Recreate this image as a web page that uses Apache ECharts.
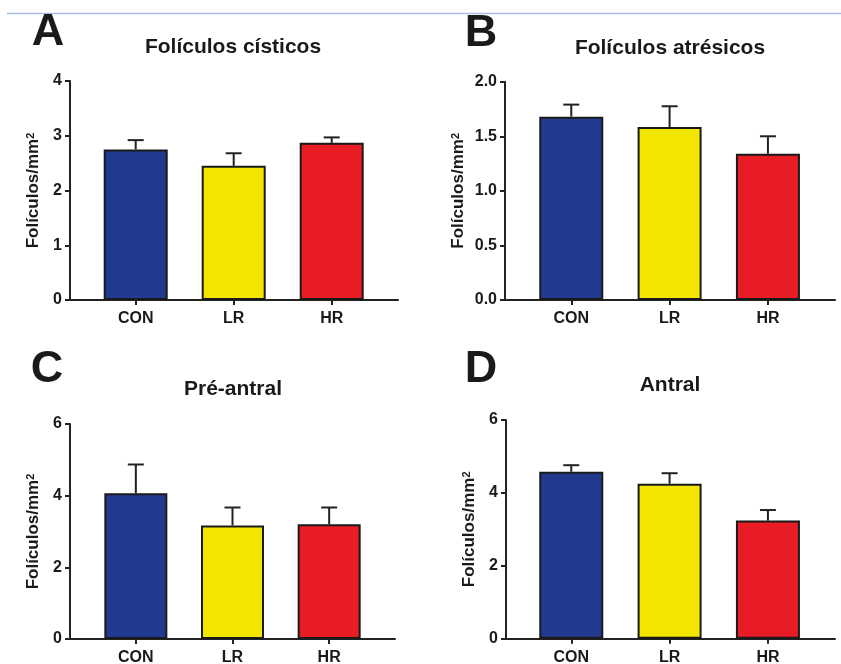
<!DOCTYPE html>
<html>
<head>
<meta charset="utf-8">
<script src="https://cdn.jsdelivr.net/npm/echarts@6/dist/echarts.min.js"></script>
<style>
html,body{margin:0;padding:0;background:#ffffff;}
#chart{width:841px;height:664px;}
</style>
</head>
<body>
<div id="chart"></div>
<script>
// ---- Data ----
var categories = ['CON', 'LR', 'HR'];
var barColors = ['#213A8F', '#F2E600', '#E81C24'];

var cisticosMean = [2.75, 2.45, 2.87];
var cisticosErr  = [0.17, 0.23, 0.10];

var atresicosMean = [1.68, 1.585, 1.34];
var atresicosErr  = [0.11, 0.19, 0.16];

var preAntralMean = [4.07, 3.17, 3.20];
var preAntralErr  = [0.80, 0.50, 0.47];

var antralMean = [4.58, 4.25, 3.24];
var antralErr  = [0.18, 0.29, 0.29];

var panelLetters = ['A', 'B', 'C', 'D'];
var panelTitles = ['Folículos císticos', 'Folículos atrésicos', 'Pré-antral', 'Antral'];
var yMax = [4, 2, 6, 6];
var yInterval = [1, 0.5, 2, 2];
var yDecimals = [0, 1, 0, 0];
var yName = 'Folículos/mm';
var yNameSup = '2';

// ---- Layout (pixels) ----
var FONT = '"Liberation Sans", Arial, Helvetica, sans-serif';
var INK = '#1a1a1a';
var panels = [
  {mean: cisticosMean,  err: cisticosErr,  axis: {left: 70,  top: 81,   width: 328, height: 219},   bars: {left: 86.7,  width: 294}, barW: 64, nameGap: 28, title: [233, 47],  letter: [48, 33]},
  {mean: atresicosMean, err: atresicosErr, axis: {left: 505, top: 81.7, width: 330, height: 218.3}, bars: {left: 522.1, width: 295}, barW: 64, nameGap: 38, title: [670, 48],  letter: [481, 34]},
  {mean: preAntralMean, err: preAntralErr, axis: {left: 70,  top: 424,  width: 325, height: 215},   bars: {left: 87.5,  width: 290}, barW: 63, nameGap: 28, title: [233, 389], letter: [47, 370]},
  {mean: antralMean,    err: antralErr,    axis: {left: 506, top: 420,  width: 329, height: 218.7}, bars: {left: 522.1, width: 295}, barW: 64, nameGap: 28, title: [670, 385], letter: [481, 369.5]}
];

var grid = [], xAxis = [], yAxis = [], series = [], graphic = [];

graphic.push({type: 'line', shape: {x1: 7, y1: 13.5, x2: 841, y2: 13.5}, style: {stroke: '#a9bfdc', lineWidth: 1.5}, silent: true});

function errRender(params, api) {
  var xi = api.value(0), m = api.value(1), e = api.value(2);
  var p0 = api.coord([xi, m]);
  var p1 = api.coord([xi, m + e]);
  var st = {stroke: '#222', lineWidth: 2};
  return {type: 'group', children: [
    {type: 'line', shape: {x1: p0[0], y1: p0[1], x2: p1[0], y2: p1[1]}, style: st},
    {type: 'line', shape: {x1: p1[0] - 8, y1: p1[1], x2: p1[0] + 8, y2: p1[1]}, style: st}
  ]};
}

panels.forEach(function (p, i) {
  var gA = 2 * i, gB = 2 * i + 1;
  grid.push({left: p.axis.left, top: p.axis.top, width: p.axis.width, height: p.axis.height, outerBoundsMode: 'none', containLabel: false});
  grid.push({left: p.bars.left, top: p.axis.top, width: p.bars.width, height: p.axis.height, outerBoundsMode: 'none', containLabel: false});

  // axis-frame grid: visible y axis and full-length x axis line
  xAxis.push({gridIndex: gA, type: 'value', min: 0, max: 1, axisLine: {show: true, onZero: false, lineStyle: {color: '#222', width: 2}},
    axisTick: {show: false}, axisLabel: {show: false}, splitLine: {show: false}});
  yAxis.push({gridIndex: gA, type: 'value', min: 0, max: yMax[i], interval: yInterval[i],
    axisLine: {show: true, lineStyle: {color: '#222', width: 2}},
    axisTick: {show: true, length: 5, lineStyle: {color: '#222', width: 2}},
    axisLabel: {color: INK, fontFamily: FONT, fontWeight: 'bold', fontSize: 16, margin: 8,
      formatter: (function (d) { return function (v) { return v.toFixed(d); }; })(yDecimals[i])},
    splitLine: {show: false},
    name: '{n|' + yName + '}{s|' + yNameSup + '}', nameLocation: 'middle', nameGap: p.nameGap, nameRotate: 90,
    nameTextStyle: {rich: {
      n: {fontFamily: FONT, fontWeight: 'bold', fontSize: 17, color: INK},
      s: {fontFamily: FONT, fontWeight: 'bold', fontSize: 11, color: INK, verticalAlign: 'top'}
    }}
  });

  // bars grid: category axis
  xAxis.push({gridIndex: gB, type: 'category', data: categories,
    axisLine: {show: false},
    axisTick: {show: true, alignWithLabel: true, length: 5, lineStyle: {color: '#222', width: 2}},
    axisLabel: {color: INK, fontFamily: FONT, fontWeight: 'bold', fontSize: 16, margin: 11},
    splitLine: {show: false}});
  yAxis.push({gridIndex: gB, type: 'value', min: 0, max: yMax[i], interval: yInterval[i], show: false});

  series.push({type: 'bar', xAxisIndex: gB, yAxisIndex: gB, barWidth: p.barW, z: 2,
    data: p.mean.map(function (v, k) { return {value: v, itemStyle: {color: barColors[k]}}; }),
    itemStyle: {borderColor: '#1a1a1a', borderWidth: 2}, silent: true, animation: false});
  series.push({type: 'custom', xAxisIndex: gB, yAxisIndex: gB, z: 3, renderItem: errRender, silent: true, animation: false,
    encode: {x: 0, y: 1},
    data: p.mean.map(function (v, k) { return [k, v, p.err[k]]; })});

  graphic.push({type: 'text', x: p.letter[0], y: p.letter[1], silent: true,
    style: {text: panelLetters[i], fontFamily: FONT, fontWeight: 'bold', fontSize: 45, fill: INK, align: 'center', verticalAlign: 'middle'}});
  graphic.push({type: 'text', x: p.title[0], y: p.title[1], silent: true,
    style: {text: panelTitles[i], fontFamily: FONT, fontWeight: 'bold', fontSize: 21, fill: INK, align: 'center', verticalAlign: 'middle'}});
});

var chart = echarts.init(document.getElementById('chart'), null, {renderer: 'canvas'});
chart.setOption({
  backgroundColor: '#ffffff',
  animation: false,
  grid: grid, xAxis: xAxis, yAxis: yAxis, series: series, graphic: graphic
});
</script>
</body>
</html>
